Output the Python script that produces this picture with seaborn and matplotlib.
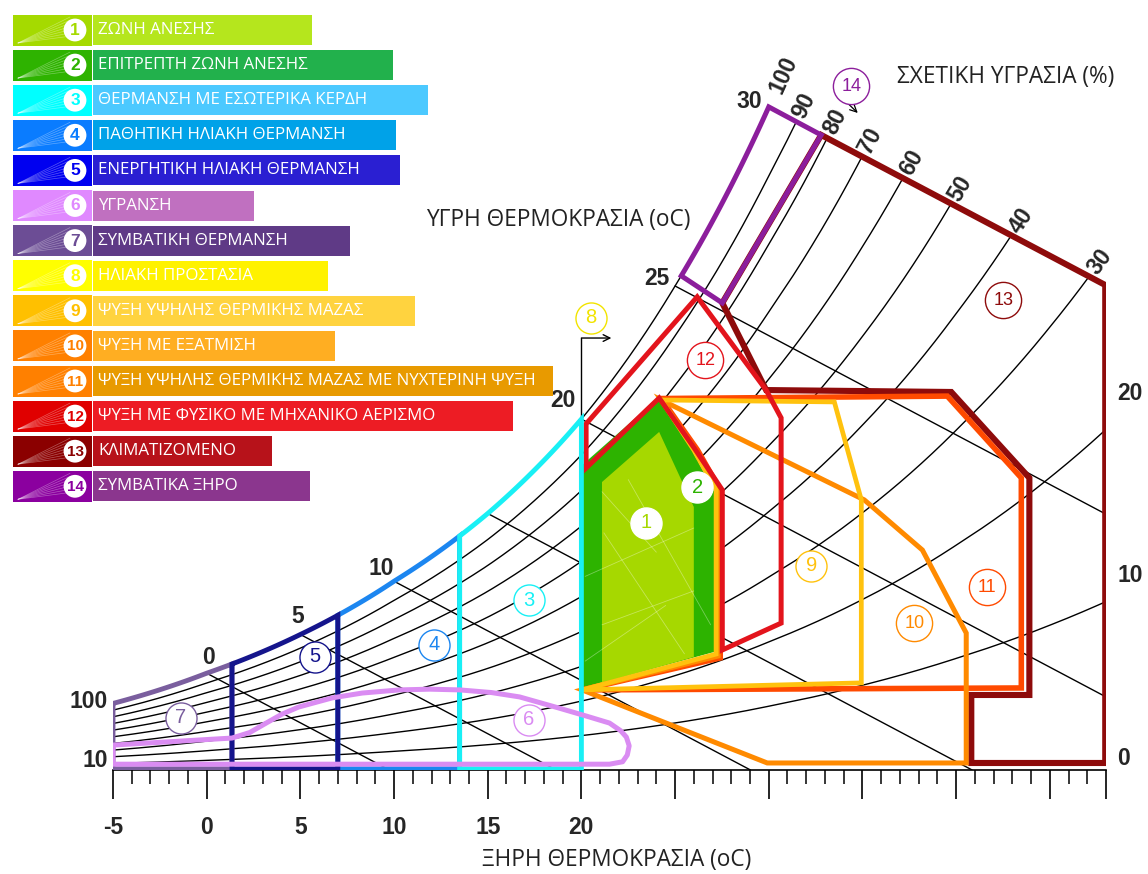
import numpy as np
import pandas as pd
import matplotlib
matplotlib.use("Agg")
import matplotlib.pyplot as plt
from matplotlib.patches import Polygon, Rectangle
import seaborn as sns

# ------------------------------------------------------------------ data
# humidity ratio (g/kg) along the saturation (100 %) curve
sat_temp = [-5, 0, 5, 10, 15, 20, 25, 30, 35, 40, 45, 50]
sat_hum = [2.75, 4.0, 5.6, 7.8, 10.6, 14.5, 20.0, 27.4, 36.9, 49.4, 65.5, 86.5]

rh_levels = [100, 90, 80, 70, 60, 50, 40, 30, 20, 10]
rh_top_labels = [100, 90, 80, 70, 60, 50, 40, 30]
wetbulb_levels = [0, 5, 10, 15, 20, 25, 30]
wetbulb_slope = 0.41          # g/kg per degree along a wet-bulb line
sat_label_temps = [0, 5, 10, 20, 25, 30]

dry_min, dry_max = -5, 48
x_major = [-5, 0, 5, 10, 15, 20, 25, 30, 35, 40, 45, 48]
x_major_labels = ["-5", "0", "5", "10", "15", "20", "", "", "", "", "", ""]
right_ticks = [0, 10, 20]

# heating strategies bounded by the saturation curve (zones 7, 5, 4, 3)
band_edges = [-5, 1.35, 7.0, 13.5, 20.0]

zone1_t = [21.1, 21.1, 24.15, 26.0, 26.0]
zone1_w = [3.60, 11.90, 13.97, 10.87, 4.67]
zone2_t = [20.04, 20.04, 24.15, 25.9, 27.1, 27.1]
zone2_w = [3.39, 12.60, 15.41, 13.22, 11.49, 4.88]
zone6_t = [-5, 1.35, 2.3, 3.2, 4.0, 4.9, 6.7, 8.3, 10.3, 11.9, 13.5, 15.2, 16.7,
           18.8, 20.3, 21.5, 22.1, 22.4, 22.55, 22.45, 22.2, 21.5, -5]
zone6_w = [1.03, 1.32, 1.55, 1.95, 2.30, 2.60, 2.98, 3.18, 3.31, 3.34, 3.31, 3.20, 3.02,
           2.56, 2.22, 1.94, 1.62, 1.36, 1.00, 0.62, 0.34, 0.24, 0.24]
zone9_t = [20.04, 27.19, 27.19, 26.0, 24.26, 33.5, 34.94, 34.94]
zone9_w = [3.31, 4.79, 11.57, 13.22, 15.29, 15.21, 11.16, 3.60]
zone10_t = [20.04, 27.30, 27.30, 26.1, 24.26, 35.1, 38.2, 40.54, 40.54, 29.92]
zone10_w = [3.31, 4.71, 11.57, 13.22, 15.29, 11.16, 9.09, 5.66, 0.29, 0.29]
zone11_t = [20.04, 27.41, 27.41, 26.2, 24.26, 39.53, 43.48, 43.48]
zone11_w = [3.31, 4.63, 11.57, 13.22, 15.35, 15.45, 12.07, 3.39]
zone12_t = [20.25, 20.25, 26.18, 29.86, 30.66, 30.66, 27.52, 27.52, 26.02, 24.15]
zone12_w = [12.48, 14.30, 19.55, 15.70, 14.55, 6.07, 4.96, 11.57, 13.31, 15.37]
zone13_t = [27.52, 32.8, 47.96, 47.96, 40.81, 40.81, 43.91, 43.91, 39.74, 29.86]
zone13_w = [19.30, 26.24, 20.04, 0.29, 0.29, 3.10, 3.10, 12.07, 15.62, 15.70]
zone14_t = [25.33, 30.0, 32.8, 27.52]     # first edge runs along saturation
zone14_w = [20.04, 27.4, 26.24, 19.30]

zone_numbers = list(range(1, 15))
zone_names = [
    "ΖΩΝΗ ΑΝΕΣΗΣ",
    "ΕΠΙΤΡΕΠΤΗ ΖΩΝΗ ΑΝΕΣΗΣ",
    "ΘΕΡΜΑΝΣΗ ΜΕ ΕΣΩΤΕΡΙΚΑ ΚΕΡΔΗ",
    "ΠΑΘΗΤΙΚΗ ΗΛΙΑΚΗ ΘΕΡΜΑΝΣΗ",
    "ΕΝΕΡΓΗΤΙΚΗ ΗΛΙΑΚΗ ΘΕΡΜΑΝΣΗ",
    "ΥΓΡΑΝΣΗ",
    "ΣΥΜΒΑΤΙΚΗ ΘΕΡΜΑΝΣΗ",
    "ΗΛΙΑΚΗ ΠΡΟΣΤΑΣΙΑ",
    "ΨΥΞΗ ΥΨΗΛΗΣ ΘΕΡΜΙΚΗΣ ΜΑΖΑΣ",
    "ΨΥΞΗ ΜΕ ΕΞΑΤΜΙΣΗ",
    "ΨΥΞΗ ΥΨΗΛΗΣ ΘΕΡΜΙΚΗΣ ΜΑΖΑΣ ΜΕ ΝΥΧΤΕΡΙΝΗ ΨΥΞΗ",
    "ΨΥΞΗ ΜΕ ΦΥΣΙΚΟ ΜΕ ΜΗΧΑΝΙΚΟ ΑΕΡΙΣΜΟ",
    "ΚΛΙΜΑΤΙΖΟΜΕΝΟ",
    "ΣΥΜΒΑΤΙΚΑ ΞΗΡΟ",
]
# positions of the numbered markers inside the chart (dry temp, g/kg)
marker_t = [23.46, 26.18, 17.21, 12.14, 5.78, 17.21, -1.37, 20.52, 32.27, 37.77, 41.66, 26.61, 42.52, 34.40]
marker_w = [10.21, 11.69, 7.02, 5.17, 4.67, 2.07, 2.15, 18.68, 8.43, 6.07, 7.56, 16.94, 19.42, 28.26]

# ------------------------------------------------------------------ styles
line_colors = ["#A6D800", "#2DB300", "#19F0F5", "#1C86F0", "#15158C", "#DA8CF2",
               "#7A5E9E", "#F2E400", "#FFC20E", "#FF8A00", "#FF4A00", "#E3141C",
               "#8E0B0B", "#8C1E9C"]
swatch_colors = ["#A5DA00", "#2EB300", "#00FFFF", "#0A7CFF", "#0000F0", "#E089FF",
                 "#6C4D95", "#FFFF00", "#FFC000", "#FF8000", "#FF8000", "#E00000",
                 "#8B0000", "#8B009F"]
box_colors = ["#B5E61D", "#22B14C", "#4CC9FF", "#00A2E8", "#2A1FD2", "#C070C0",
              "#5F3A86", "#FFF200", "#FFD33F", "#FFAE22", "#E89A00", "#ED1C24",
              "#B7121A", "#8B368E"]
box_right = [312, 393, 428, 396, 400, 254, 350, 328, 415, 335, 553, 513, 272, 310]

W, H = 1148, 874
PX_PER_G = 24.2

sns.set_theme(style="white")
plt.rcParams["font.family"] = ["Open Sans", "DejaVu Sans"]
NUM_FONT = ["Liberation Sans", "DejaVu Sans"]
NUM_SIZE = 16.5


def sat(t):
    return np.exp(np.interp(t, sat_temp, np.log(sat_hum)))


def rh_curve(t, rh):
    ws = sat(t)
    phi = rh / 100.0
    return 622 * phi * ws / (622 + (1 - phi) * ws)


def wetbulb_line(t, twb):
    return sat(twb) - wetbulb_slope * (np.asarray(t, dtype=float) - twb)


fig = plt.figure(figsize=(W / 100, H / 100), dpi=100)
fig.patch.set_facecolor("white")
ax = fig.add_axes([113 / W, (H - 770) / H, 993 / W, 770 / H])
ax.set_facecolor("none")
ax.set_xlim(dry_min, dry_max)
ax.set_ylim(0, 770 / PX_PER_G)

# ------------------------------------------------------------------ grid
top_twb = wetbulb_levels[-1]
tt = np.linspace(dry_min, dry_max, 2121)
frames = []
rh_ends = {}
for rh in rh_levels:
    w = rh_curve(tt, rh)
    cap = wetbulb_line(tt, top_twb)
    over = np.nonzero(w > cap + 1e-9)[0]
    if len(over):
        i = over[0]
        d0, d1 = w[i - 1] - cap[i - 1], w[i] - cap[i]
        te = tt[i - 1] + (-d0 / (d1 - d0)) * (tt[i] - tt[i - 1])
        t_seg = np.append(tt[:i], te)
    else:
        t_seg = tt
    w_seg = rh_curve(t_seg, rh)
    rh_ends[rh] = (t_seg[-1], w_seg[-1])
    frames.append(pd.DataFrame({"t": t_seg, "w": w_seg, "line": f"rh{rh}"}))

for twb in wetbulb_levels:
    t_end = min(dry_max, twb + sat(twb) / wetbulb_slope)
    t_seg = np.array([twb, t_end])
    frames.append(pd.DataFrame({"t": t_seg, "w": wetbulb_line(t_seg, twb), "line": f"wb{twb}"}))

grid = pd.concat(frames, ignore_index=True)
sns.lineplot(data=grid, x="t", y="w", units="line", estimator=None, sort=False,
             color="black", linewidth=1.0, ax=ax, legend=False, zorder=2)

# ------------------------------------------------------------------ zones
def outline(ts, ws, color, lw, z, join="miter"):
    ax.add_patch(Polygon(np.column_stack([ts, ws]), closed=True, fill=False,
                         edgecolor=color, linewidth=lw, joinstyle=join, zorder=z))


# comfort zones (filled)
ax.add_patch(Polygon(np.column_stack([zone2_t, zone2_w]), closed=True,
                     facecolor=line_colors[1], edgecolor="none", zorder=3))
ax.add_patch(Polygon(np.column_stack([zone1_t, zone1_w]), closed=True,
                     facecolor=line_colors[0], edgecolor="none", zorder=3.1))
# faint facet lines across the filled comfort zones
facet_t = [[21.1, 24.0], [20.2, 26.0], [21.1, 26.0], [20.2, 24.5], [22.5, 26.9], [21.2, 25.5]]
facet_w = [[11.5, 9.0], [8.0, 10.0], [6.0, 7.4], [4.5, 6.8], [12.0, 6.0], [9.8, 4.8]]
for ft, fw in zip(facet_t, facet_w):
    ax.plot(ft, fw, color="white", lw=0.6, alpha=0.35, zorder=3.2)

outline(zone13_t, zone13_w, line_colors[12], 4.4, 4.0)
outline(zone11_t, zone11_w, line_colors[10], 4.0, 4.1)
outline(zone10_t, zone10_w, line_colors[9], 3.6, 4.2)
outline(zone9_t, zone9_w, line_colors[8], 3.4, 4.3)
outline(zone12_t, zone12_w, line_colors[11], 3.6, 4.4)

ts14 = np.linspace(zone14_t[0], zone14_t[1], 40)
outline(np.r_[ts14, zone14_t[2:]], np.r_[sat(ts14), zone14_w[2:]], line_colors[13], 3.6, 4.5)

band_colors = [line_colors[6], line_colors[4], line_colors[3], line_colors[2]]
band_z = [4.6, 4.8, 4.7, 4.9]
for (t0, t1), col, z in zip(zip(band_edges[:-1], band_edges[1:]), band_colors, band_z):
    ts = np.linspace(t0, t1, 60)
    outline(np.r_[t0, ts, t1], np.r_[0.05, sat(ts), 0.05], col, 3.5, z)

outline(zone6_t, zone6_w, line_colors[5], 3.6, 5.0, join="round")

# solar protection: everything right of the 20 degree line
ax.plot([band_edges[-1], band_edges[-1]], [sat(band_edges[-1]), 17.85],
        color="black", lw=1.0, zorder=2)
ax.annotate("", xy=(21.6, 17.85), xytext=(band_edges[-1], 17.85),
            arrowprops=dict(arrowstyle="->", lw=1.0, color="black",
                            shrinkA=0, shrinkB=0), annotation_clip=False)
# pointer under marker 14
ax.annotate("", xy=(34.75, 27.15), xytext=(33.95, 27.75),
            arrowprops=dict(arrowstyle="->", lw=0.9, color="black",
                            shrinkA=0, shrinkB=0), annotation_clip=False)

# numbered markers
for n, t, w, col in zip(zone_numbers, marker_t, marker_w, line_colors):
    big = n >= 10
    edge = "white" if n <= 2 else col
    ax.scatter([t], [w], s=680 if big else 500, facecolor="white",
               edgecolor=edge, linewidth=1.0, zorder=8)
    ax.text(t, w, str(n), ha="center", va="center", color=col,
            fontsize=13 if big else 14.5, family=NUM_FONT, zorder=9)

# ------------------------------------------------------------------ axes
for side in ["left", "right", "top"]:
    ax.spines[side].set_visible(False)
ax.spines["bottom"].set_color("black")
ax.spines["bottom"].set_linewidth(1.2)
ax.set_yticks([])
ax.set_xticks(x_major)
ax.set_xticklabels(x_major_labels)
ax.set_xticks(np.arange(dry_min, dry_max + 1, 1), minor=True)
ax.tick_params(axis="x", which="major", bottom=True, direction="out", length=21,
               width=1.2, color="black", pad=12, labelsize=NUM_SIZE)
ax.tick_params(axis="x", which="minor", bottom=True, direction="out", length=10,
               width=1.1, color="black")
for lab in ax.get_xticklabels():
    lab.set_fontweight("bold")
    lab.set_family(NUM_FONT)
ax.set_xlabel("")
ax.set_ylabel("")

# right-hand scale
sec = ax.secondary_yaxis("right",
                         functions=(lambda w: (PX_PER_G * w - 14.2) / 18.25,
                                    lambda v: (14.2 + 18.25 * v) / PX_PER_G))
sec.set_yticks(right_ticks)
sec.tick_params(length=0, pad=8, labelsize=NUM_SIZE)
sec.spines["right"].set_visible(False)
for lab in sec.get_yticklabels():
    lab.set_fontweight("bold")
    lab.set_family(NUM_FONT)

# saturation (wet-bulb) labels
sat_label_offsets = [(2, 16), (-3, 18), (-13, 13), (-18, 19), (-18, 8), (-20, 5)]
for t, off in zip(sat_label_temps, sat_label_offsets):
    ax.annotate(str(t), xy=(t, sat(t)), xytext=off, textcoords="offset pixels",
                ha="center", va="center", fontsize=NUM_SIZE, fontweight="bold",
                family=NUM_FONT, annotation_clip=False, zorder=9)

# relative-humidity labels on the left edge
for rh, off in zip([100, 10], [(-5, 2), (-5, 3)]):
    ax.annotate(str(rh), xy=(dry_min, rh_curve(dry_min, rh)), xytext=off,
                textcoords="offset pixels", ha="right", va="center", fontsize=NUM_SIZE,
                fontweight="bold", family=NUM_FONT, annotation_clip=False)

# relative-humidity labels along the upper boundary
for rh in rh_top_labels:
    te, we = rh_ends[rh]
    p1 = ax.transData.transform((te, we))
    p0 = ax.transData.transform((te - 0.3, rh_curve(te - 0.3, rh)))
    ang = np.arctan2(p1[1] - p0[1], p1[0] - p0[0])
    d = 16 if rh == 100 else 5
    ax.annotate(str(rh), xy=(te, we), xytext=(d * np.cos(ang), d * np.sin(ang)),
                textcoords="offset pixels", rotation=np.degrees(ang),
                rotation_mode="anchor", ha="left", va="center", fontsize=NUM_SIZE,
                fontweight="bold", family=NUM_FONT, annotation_clip=False)

# ------------------------------------------------------------------ overlay: titles & legend
ov = fig.add_axes([0, 0, 1, 1])
ov.set_xlim(0, W)
ov.set_ylim(H, 0)
ov.set_facecolor("none")
ov.axis("off")

title_color = "#222222"
ov.text(558, 220, "ΥΓΡΗ ΘΕΡΜΟΚΡΑΣΙΑ (oC)", ha="center", va="center", fontsize=16.3, color=title_color)
ov.text(1006, 77, "ΣΧΕΤΙΚΗ ΥΓΡΑΣΙΑ (%)", ha="center", va="center", fontsize=16.3, color=title_color)
ov.text(617, 860, "ΞΗΡΗ ΘΕΡΜΟΚΡΑΣΙΑ (oC)", ha="center", va="center", fontsize=16.3, color=title_color)

for i, (n, name) in enumerate(zip(zone_numbers, zone_names)):
    yc = 30 + 35.1 * i
    ov.add_patch(Rectangle((13, yc - 15.5), 79, 31, facecolor=swatch_colors[i], edgecolor="none"))
    for k in range(7):
        ov.plot([18, 70], [yc + 13, yc - 13 + 3.2 * k], color="white", lw=0.5, alpha=0.35)
    ov.add_patch(Rectangle((93, yc - 15), box_right[i] - 93, 30, facecolor=box_colors[i], edgecolor="none"))
    ov.scatter([75], [yc], s=270, facecolor="white", edgecolor="none", zorder=5)
    ov.text(75, yc + 0.5, str(n), ha="center", va="center", color=swatch_colors[i],
            fontsize=11 if n >= 10 else 12.5, fontweight="bold", family=NUM_FONT, zorder=6)
    ov.text(98, yc, name, ha="left", va="center", color="white", fontsize=12.2, zorder=6)

fig.savefig("out.png", dpi=100, facecolor="white")
